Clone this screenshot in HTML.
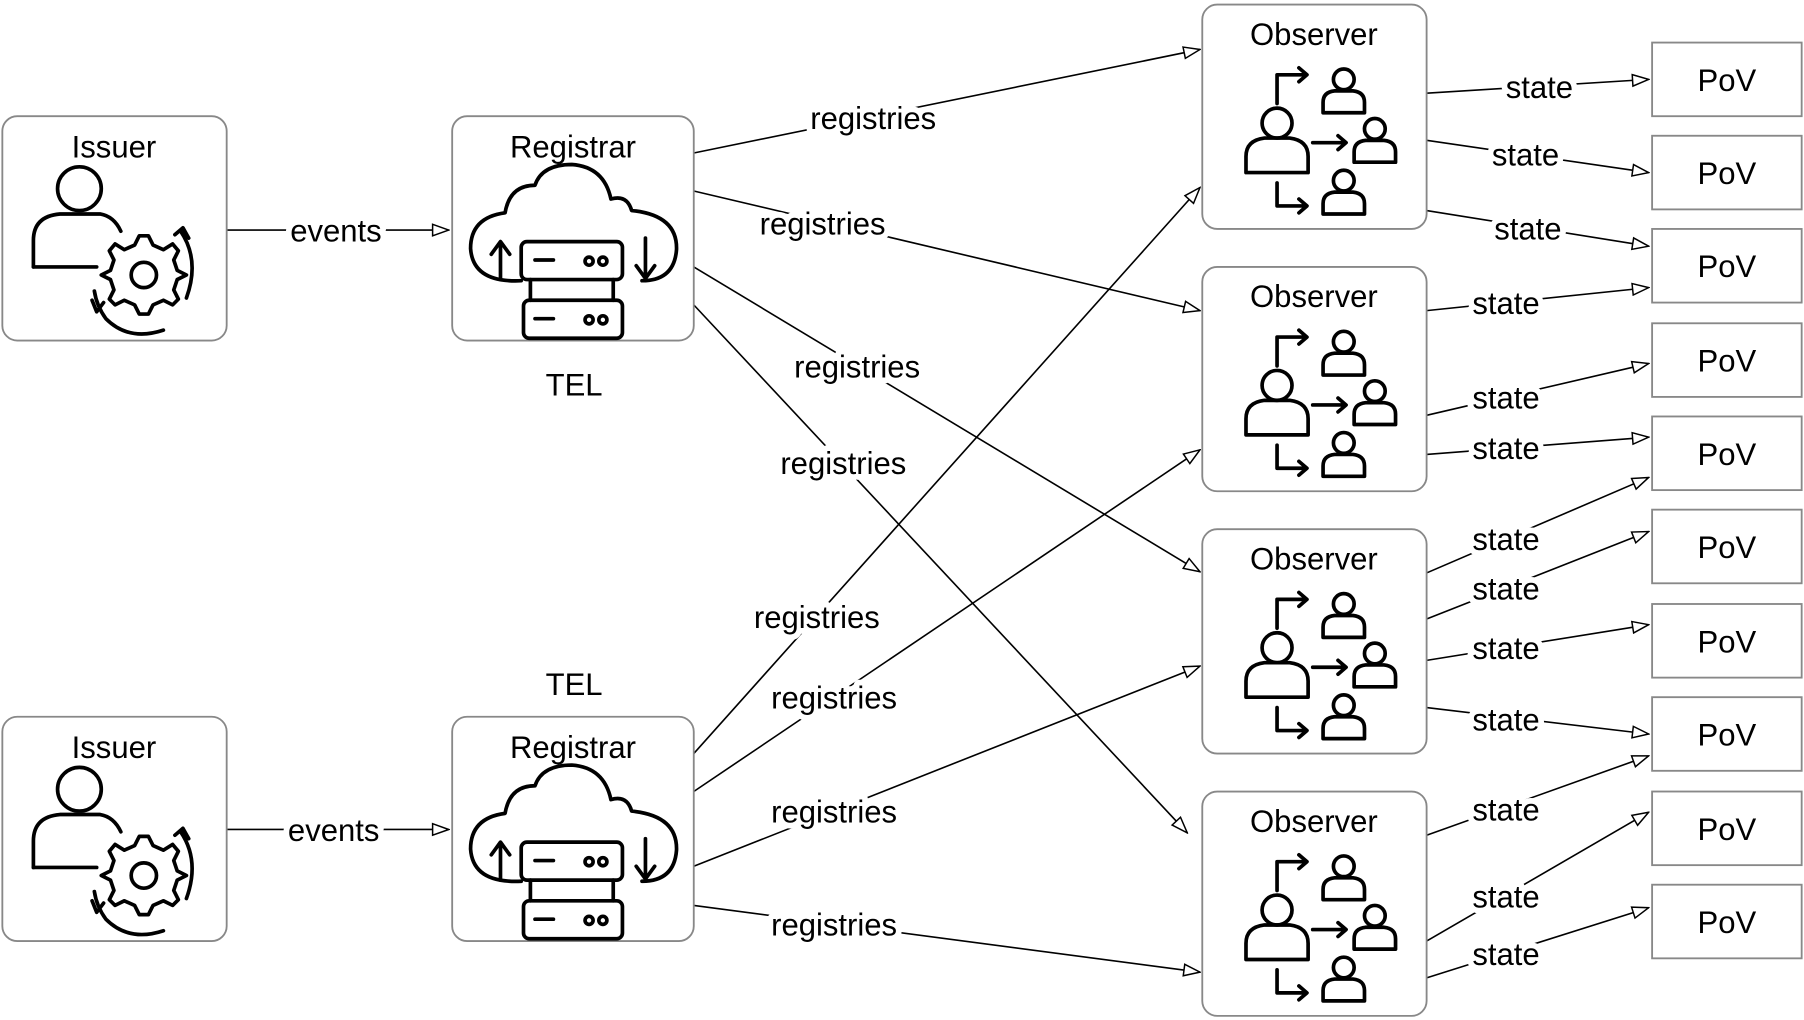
<!DOCTYPE html>
<html><head><meta charset="utf-8"><style>
html,body{margin:0;padding:0;background:#fff;}
svg{display:block;}
text{font-family:"Liberation Sans",Arial,sans-serif;font-size:27px;fill:#000;}
.lbl{stroke:#fff;stroke-width:10px;paint-order:stroke;stroke-linejoin:round;}
.box{fill:#fff;stroke:#888;stroke-width:1.6;}
.e{stroke:#000;stroke-width:1.4;fill:none;marker-end:url(#ah);}
.ic{stroke:#000;stroke-width:3.2;fill:none;stroke-linejoin:round;stroke-linecap:round;}
</style></head><body>
<svg width="1804" height="1020" viewBox="0 0 1568 886.6" xmlns="http://www.w3.org/2000/svg">
<defs>
<marker id="ah" markerWidth="16" markerHeight="12" refX="15" refY="6" orient="auto" markerUnits="userSpaceOnUse">
<path d="M1,1 L15,6 L1,11 Z" fill="#fff" stroke="#000" stroke-width="1.3"/>
</marker>
<g id="obsicon">
 <circle class="ic" cx="65" cy="103" r="13"/>
 <path class="ic" d="M38,146 V132 Q38,118 54,116 L76,116 Q92,118 92,132 V146 Z"/>
 <circle class="ic" cx="123" cy="65" r="9"/>
 <path class="ic" d="M105,94 V85 Q105,76 115,75 L131,75 Q141,76 141,85 V94 Z"/>
 <circle class="ic" cx="150" cy="108" r="9"/>
 <path class="ic" d="M132,137 V128 Q132,119 142,118 L158,118 Q168,119 168,128 V137 Z"/>
 <circle class="ic" cx="123" cy="153" r="9"/>
 <path class="ic" d="M105,182 V173 Q105,164 115,163 L131,163 Q141,164 141,173 V182 Z"/>
 <path class="ic" d="M65,86 V61 H90 M84,55 L91,61 L84,67"/>
 <path class="ic" d="M96,120 H124 M118,114 L125,120 L118,126"/>
 <path class="ic" d="M65,155 V175 H90 M84,169 L91,175 L84,181"/>
</g>
<g id="issicon">
 <circle class="ic" cx="67" cy="63" r="19"/>
 <path class="ic" d="M27,131 V108 Q27,87 50,85 L85,85 Q97,87 103,100"/>
 <path class="ic" d="M27,131 H82"/>
 <circle class="ic" cx="123" cy="138" r="11"/>
 <path class="ic" d="M115,112 L119,104 H127 L131,112 L140,116 L148,111 L153,117 L149,125 L152,134 L160,138 L152,142 L149,151 L153,159 L148,164 L140,160 L131,164 L127,172 H119 L115,164 L106,160 L98,164 L93,159 L97,151 L94,142 L86,138 L94,134 L97,125 L93,117 L98,111 L106,116 Z"/>
 <path class="ic" d="M155,100 Q172,125 160,158 M150,103 L157,97 L162,106"/>
 <path class="ic" d="M90,176 Q110,196 140,186 M80,152 Q82,165 90,176 M78,160 L82,170 L88,162"/>
</g>
<g id="regicon">
 <path class="ic" d="M60,131 Q18,133 16,103 Q16,76 46,72 Q50,48 72,48 Q78,30 104,30 Q132,32 138,60 Q152,56 156,70 Q196,74 195,104 Q193,131 165,131"/>
 <rect class="ic" x="60" y="97" width="88" height="33" rx="5"/>
 <rect class="ic" x="62" y="148" width="86" height="33" rx="5"/>
 <path class="ic" d="M68,130 V148 M140,130 V148"/>
 <path class="ic" d="M72,113 H88 M72,164 H88"/>
 <circle class="ic" cx="119" cy="114" r="3.5"/><circle class="ic" cx="131" cy="114" r="3.5"/>
 <circle class="ic" cx="119" cy="165" r="3.5"/><circle class="ic" cx="131" cy="165" r="3.5"/>
 <path class="ic" d="M42,130 V98 M34,108 L42,97 L50,108"/>
 <path class="ic" d="M168,94 V128 M160,118 L168,129 L176,118"/>
</g>
</defs>

<!-- edges -->
<path class="e" d="M603,133 L1043,43"/>
<path class="e" d="M603,166 L1043,270"/>
<path class="e" d="M603,232 L1043,497"/>
<path class="e" d="M603,265 L1032,724"/>
<path class="e" d="M603,655 L1043,163"/>
<path class="e" d="M603,688 L1043,391"/>
<path class="e" d="M603,753 L1043,579"/>
<path class="e" d="M603,787 L1043,845"/>
<path class="e" d="M197,200 L390,200"/>
<path class="e" d="M197,721 L390,721"/>

<path class="e" d="M1240,81 L1433,69"/>
<path class="e" d="M1240,122 L1433,150"/>
<path class="e" d="M1240,183 L1433,214"/>
<path class="e" d="M1240,270 L1433,250"/>
<path class="e" d="M1240,361 L1433,316"/>
<path class="e" d="M1240,395 L1433,380"/>
<path class="e" d="M1240,498 L1433,415"/>
<path class="e" d="M1240,538 L1433,462"/>
<path class="e" d="M1240,574 L1433,543"/>
<path class="e" d="M1240,615 L1433,638"/>
<path class="e" d="M1240,726 L1433,657"/>
<path class="e" d="M1240,818 L1433,706"/>
<path class="e" d="M1240,850 L1433,789"/>

<!-- nodes -->
<rect class="box" x="2" y="101" width="195" height="195" rx="13"/>
<rect class="box" x="2" y="623" width="195" height="195" rx="13"/>
<rect class="box" x="393" y="101" width="210" height="195" rx="13"/>
<rect class="box" x="393" y="623" width="210" height="195" rx="13"/>
<text x="99" y="137" text-anchor="middle">Issuer</text>
<text x="99" y="659" text-anchor="middle">Issuer</text>
<text x="498" y="137" text-anchor="middle">Registrar</text>
<text x="498" y="659" text-anchor="middle">Registrar</text>
<text x="499" y="344" text-anchor="middle">TEL</text>
<text x="499" y="604" text-anchor="middle">TEL</text>
<use href="#issicon" x="2" y="101"/>
<use href="#issicon" x="2" y="623"/>
<use href="#regicon" x="393" y="113"/>
<use href="#regicon" x="393" y="635"/>

<g>
<rect class="box" x="1045" y="4" width="195" height="195" rx="13"/>
<rect class="box" x="1045" y="232" width="195" height="195" rx="13"/>
<rect class="box" x="1045" y="460" width="195" height="195" rx="13"/>
<rect class="box" x="1045" y="688" width="195" height="195" rx="13"/>
<text x="1142" y="39" text-anchor="middle">Observer</text>
<text x="1142" y="267" text-anchor="middle">Observer</text>
<text x="1142" y="495" text-anchor="middle">Observer</text>
<text x="1142" y="723" text-anchor="middle">Observer</text>
<use href="#obsicon" x="1045" y="4"/>
<use href="#obsicon" x="1045" y="232"/>
<use href="#obsicon" x="1045" y="460"/>
<use href="#obsicon" x="1045" y="688"/>
</g>

<g>
<rect class="box" x="1436" y="37" width="130" height="64"/>
<rect class="box" x="1436" y="118" width="130" height="64"/>
<rect class="box" x="1436" y="199" width="130" height="64"/>
<rect class="box" x="1436" y="281" width="130" height="64"/>
<rect class="box" x="1436" y="362" width="130" height="64"/>
<rect class="box" x="1436" y="443" width="130" height="64"/>
<rect class="box" x="1436" y="525" width="130" height="64"/>
<rect class="box" x="1436" y="606" width="130" height="64"/>
<rect class="box" x="1436" y="688" width="130" height="64"/>
<rect class="box" x="1436" y="769" width="130" height="64"/>
<text x="1501" y="79" text-anchor="middle">PoV</text>
<text x="1501" y="160" text-anchor="middle">PoV</text>
<text x="1501" y="241" text-anchor="middle">PoV</text>
<text x="1501" y="323" text-anchor="middle">PoV</text>
<text x="1501" y="404" text-anchor="middle">PoV</text>
<text x="1501" y="485" text-anchor="middle">PoV</text>
<text x="1501" y="567" text-anchor="middle">PoV</text>
<text x="1501" y="648" text-anchor="middle">PoV</text>
<text x="1501" y="730" text-anchor="middle">PoV</text>
<text x="1501" y="811" text-anchor="middle">PoV</text>
</g>

<!-- labels -->
<g text-anchor="middle">
<text class="lbl" x="292" y="210">events</text>
<text class="lbl" x="290" y="731">events</text>
<text class="lbl" x="759" y="112">registries</text>
<text class="lbl" x="715" y="204">registries</text>
<text class="lbl" x="745" y="328">registries</text>
<text class="lbl" x="733" y="412">registries</text>
<text class="lbl" x="710" y="546">registries</text>
<text class="lbl" x="725" y="616">registries</text>
<text class="lbl" x="725" y="715">registries</text>
<text class="lbl" x="725" y="813">registries</text>
<text class="lbl" x="1338" y="85">state</text>
<text class="lbl" x="1326" y="144">state</text>
<text class="lbl" x="1328" y="208">state</text>
<text class="lbl" x="1309" y="273">state</text>
<text class="lbl" x="1309" y="355">state</text>
<text class="lbl" x="1309" y="399">state</text>
<text class="lbl" x="1309" y="478">state</text>
<text class="lbl" x="1309" y="521">state</text>
<text class="lbl" x="1309" y="573">state</text>
<text class="lbl" x="1309" y="635">state</text>
<text class="lbl" x="1309" y="713">state</text>
<text class="lbl" x="1309" y="789">state</text>
<text class="lbl" x="1309" y="839">state</text>
</g>
</svg>
</body></html>
